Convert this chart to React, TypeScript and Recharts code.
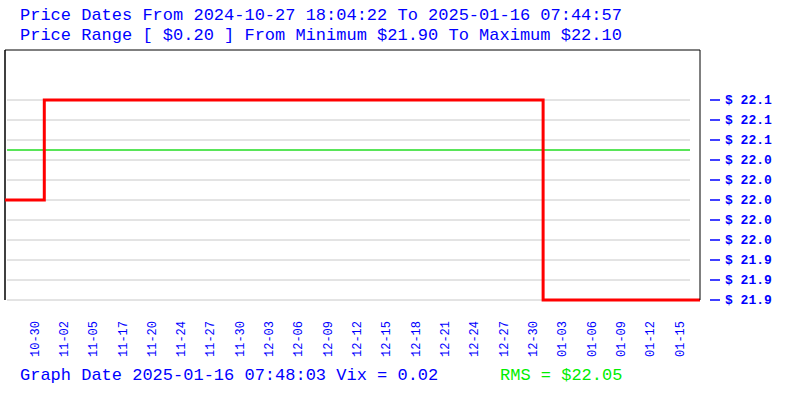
import { CartesianGrid, Line, LineChart, ReferenceLine, XAxis, YAxis } from "recharts";

// x axis tick labels (evenly spaced slots, one per label)
const dateLabels = [
  "10-30", "11-02", "11-05", "11-17", "11-20", "11-24", "11-27", "11-30",
  "12-03", "12-06", "12-09", "12-12", "12-15", "12-18", "12-21", "12-24",
  "12-27", "12-30", "01-03", "01-06", "01-09", "01-12", "01-15",
];
const dateSlots = dateLabels.map((_, i) => i + 1);

// price steps, position measured in label slots
const stepPositions = [0, 1.34, 18.35, 23.7];
const stepPrices = [22.0, 22.1, 21.9, 21.9];

const priceTicks = [21.9, 21.92, 21.94, 21.96, 21.98, 22.0, 22.02, 22.04, 22.06, 22.08, 22.1];
const priceDomain = [21.9, 22.15];
const slotDomain = [0, 23.7];
const rmsPrice = 22.05;
const rmsSpan = [0.07, 23.36]; // RMS line stops short of the right frame, like the grid

const data = stepPositions.map((pos, i) => ({ pos, price: stepPrices[i] }));

const FONT = "'Liberation Mono', 'DejaVu Sans Mono', monospace";
const BLUE = "#0000ff";

function DateTick(props: any) {
  const { x, y, payload } = props;
  const label = dateLabels[payload.value - 1] ?? "";
  return (
    <text
      transform={`translate(${x},${y + 21}) rotate(-90)`}
      textAnchor="end"
      dy="0.35em"
      fontFamily={FONT}
      fontSize={12}
      fill={BLUE}
    >
      {label}
    </text>
  );
}

function PriceTick(props: any) {
  const { x, y, payload } = props;
  return (
    <g>
      <line x1={x + 10} x2={x + 20} y1={y} y2={y} stroke={BLUE} strokeWidth={1.5} />
      <text
        x={x + 25}
        y={y}
        dy="0.33em"
        fontFamily={FONT}
        fontSize={13}
        fontWeight="bold"
        fill={BLUE}
      >
        {"$ " + Number(payload.value).toFixed(1)}
      </text>
    </g>
  );
}

function GridLine(props: any) {
  const { x1, x2, y1, y2 } = props;
  return <line x1={x1 + 2} x2={x2 - 10} y1={y1} y2={y2} stroke="#c8c8c8" strokeWidth={1} />;
}

export default function App() {
  const textStyle: React.CSSProperties = {
    position: "absolute",
    fontFamily: FONT,
    fontSize: 17,
    lineHeight: "20px",
    whiteSpace: "pre",
    color: BLUE,
  };
  return (
    <div style={{ position: "absolute", left: 0, top: 0, width: 800, height: 400, background: "#fff" }}>
      <LineChart
        width={800}
        height={400}
        data={data}
        margin={{ top: 50, right: 0, bottom: 0, left: 5 }}
      >
        <CartesianGrid
          vertical={false}
          syncWithTicks
          horizontal={(p: any) => <GridLine key={p.key} {...p} />}
        />
        <XAxis
          dataKey="pos"
          type="number"
          domain={slotDomain}
          ticks={dateSlots}
          interval={0}
          height={100}
          axisLine={false}
          tickLine={false}
          tickSize={0}
          tickMargin={0}
          tick={<DateTick />}
        />
        <YAxis
          orientation="right"
          type="number"
          domain={priceDomain}
          ticks={priceTicks}
          interval={0}
          width={100}
          stroke="#000"
          axisLine={{ stroke: "#000", strokeWidth: 1 }}
          tickLine={false}
          tickSize={0}
          tickMargin={0}
          tick={<PriceTick />}
        />
        <ReferenceLine x={slotDomain[0]} stroke="#000" strokeWidth={1.5} />
        <ReferenceLine y={priceDomain[1]} stroke="#000" strokeWidth={1} />
        <ReferenceLine
          segment={[
            { x: rmsSpan[0], y: rmsPrice },
            { x: rmsSpan[1], y: rmsPrice },
          ]}
          stroke="#22dd22"
          strokeWidth={1.5}
        />
        <Line
          dataKey="price"
          type="stepAfter"
          stroke="#ff0000"
          strokeWidth={3}
          dot={false}
          isAnimationActive={false}
        />
      </LineChart>
      <div style={{ ...textStyle, left: 20, top: 6 }}>
        Price Dates From 2024-10-27 18:04:22 To 2025-01-16 07:44:57
      </div>
      <div style={{ ...textStyle, left: 20, top: 26 }}>
        Price Range [ $0.20 ] From Minimum $21.90 To Maximum $22.10
      </div>
      <div style={{ ...textStyle, left: 20, top: 366 }}>
        Graph Date 2025-01-16 07:48:03 Vix = 0.02
      </div>
      <div style={{ ...textStyle, left: 500, top: 366, color: "#00ee00" }}>RMS = $22.05</div>
    </div>
  );
}
